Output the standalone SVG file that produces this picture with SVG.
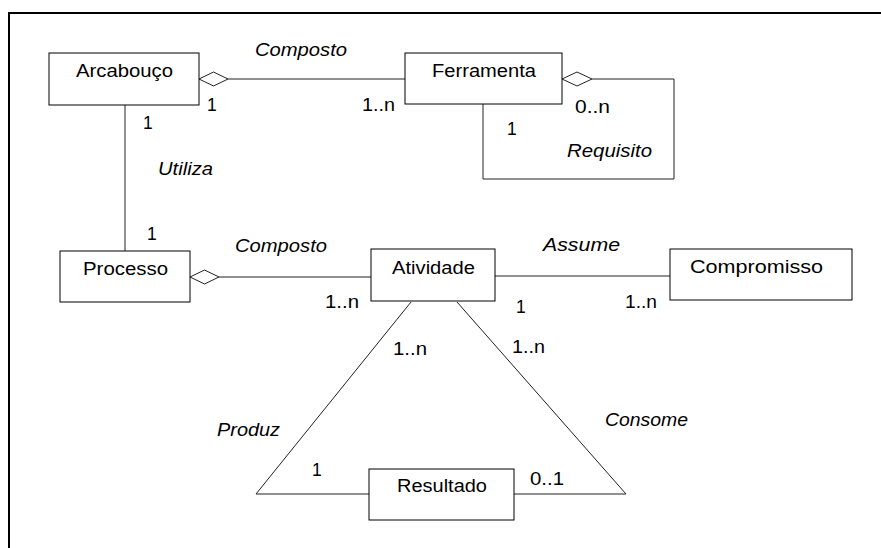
<svg xmlns="http://www.w3.org/2000/svg" width="881" height="548" viewBox="0 0 881 548">
<style>
.box{fill:#fff;stroke:#000;stroke-width:1}
.ln{fill:none;stroke:#222;stroke-width:1}
.dia{fill:#fff;stroke:#222;stroke-width:1}
text{font-family:"Liberation Sans",Arial,sans-serif;font-size:17.5px;fill:#000}
.it{font-style:italic}
</style>
<rect width="881" height="548" fill="#fff"/>
<path d="M9,548 V13 H881" fill="none" stroke="#000" stroke-width="2"/>
<g id="connectors">
  <path class="ln" d="M228,79 H405"/>
  <polygon class="dia" points="199,79 213.5,72 228,79 213.5,86"/>
  <path class="ln" d="M592,79 H674 V179 H483 V104"/>
  <polygon class="dia" points="562,79 577,72 592,79 577,86"/>
  <path class="ln" d="M125,105 V251"/>
  <path class="ln" d="M219,277 H371"/>
  <polygon class="dia" points="190,277 204.5,270 219,277 204.5,284"/>
  <path class="ln" d="M495,276 H670"/>
  <path class="ln" d="M411,302 L256,494 H369"/>
  <path class="ln" d="M457,302 L626,494 H514"/>
  <text class="it" x="255" y="56" textLength="92" lengthAdjust="spacingAndGlyphs">Composto</text>
  <text x="207" y="111">1</text>
  <text x="362" y="111" textLength="33" lengthAdjust="spacingAndGlyphs">1..n</text>
  <text x="575" y="113" textLength="35" lengthAdjust="spacingAndGlyphs">0..n</text>
  <text x="507" y="135">1</text>
  <text class="it" x="567" y="157" textLength="85" lengthAdjust="spacingAndGlyphs">Requisito</text>
  <text x="143" y="129">1</text>
  <text class="it" x="158" y="175" textLength="55" lengthAdjust="spacingAndGlyphs">Utiliza</text>
  <text x="147" y="240">1</text>
  <text class="it" x="235" y="252" textLength="92" lengthAdjust="spacingAndGlyphs">Composto</text>
  <text x="325" y="308" textLength="34" lengthAdjust="spacingAndGlyphs">1..n</text>
  <text class="it" x="543" y="251" textLength="77" lengthAdjust="spacingAndGlyphs">Assume</text>
  <text x="516" y="313">1</text>
  <text x="625" y="308" textLength="32" lengthAdjust="spacingAndGlyphs">1..n</text>
  <text x="393" y="355" textLength="34" lengthAdjust="spacingAndGlyphs">1..n</text>
  <text x="512" y="353" textLength="33" lengthAdjust="spacingAndGlyphs">1..n</text>
  <text class="it" x="605" y="426" textLength="83" lengthAdjust="spacingAndGlyphs">Consome</text>
  <text class="it" x="217" y="436" textLength="63" lengthAdjust="spacingAndGlyphs">Produz</text>
  <text x="312" y="476">1</text>
  <text x="530" y="485" textLength="34" lengthAdjust="spacingAndGlyphs">0..1</text>
</g>
<g id="arcabouco">
  <rect class="box" x="49" y="53" width="150" height="52"/>
  <text x="76" y="77" textLength="97" lengthAdjust="spacingAndGlyphs">Arcabouço</text>
</g>
<g id="ferramenta">
  <rect class="box" x="405" y="53" width="157" height="51"/>
  <text x="432" y="77" textLength="104" lengthAdjust="spacingAndGlyphs">Ferramenta</text>
</g>
<g id="processo">
  <rect class="box" x="60" y="251" width="130" height="51"/>
  <text x="83" y="275" textLength="85" lengthAdjust="spacingAndGlyphs">Processo</text>
</g>
<g id="atividade">
  <rect class="box" x="371" y="249" width="124" height="52"/>
  <text x="392" y="274" textLength="83" lengthAdjust="spacingAndGlyphs">Atividade</text>
</g>
<g id="compromisso">
  <rect class="box" x="670" y="249" width="182" height="51"/>
  <text x="690" y="273" textLength="133" lengthAdjust="spacingAndGlyphs">Compromisso</text>
</g>
<g id="resultado">
  <rect class="box" x="369" y="469" width="145" height="51"/>
  <text x="397" y="492" textLength="90" lengthAdjust="spacingAndGlyphs">Resultado</text>
</g>
</svg>
